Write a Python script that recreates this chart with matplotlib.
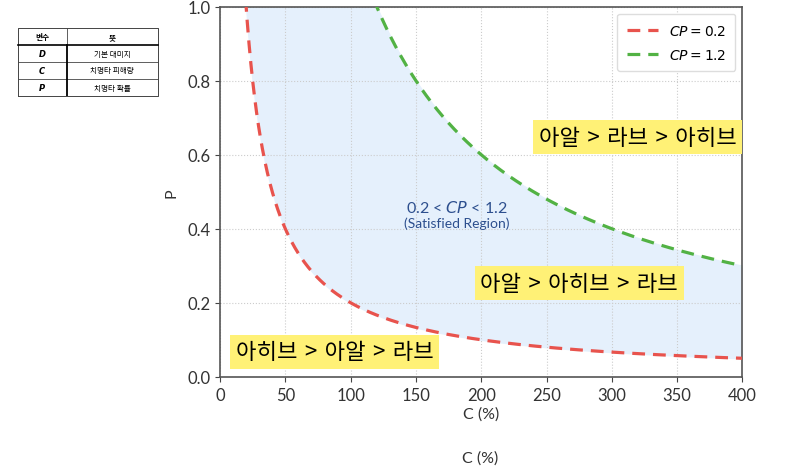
import matplotlib.pyplot as plt
import numpy as np

plt.rcParams["font.family"] = ["Lato", "Noto Sans CJK KR", "DejaVu Sans"]

# chart data (C in %, so P = CP / (C / 100))
cp_levels = [0.2, 1.2]
cp_labels = [r"$CP = 0.2$", r"$CP = 1.2$"]
cp_colors = ["#e8534d", "#52b244"]
c_grid = np.linspace(10, 400, 800)

x_ticks = [0, 50, 100, 150, 200, 250, 300, 350, 400]
y_ticks = [0.0, 0.2, 0.4, 0.6, 0.8, 1.0]

region_texts = ["아알 > 라브 > 아히브", "아알 > 아히브 > 라브", "아히브 > 아알 > 라브"]
region_x = [320, 275, 88]
region_y = [0.647, 0.253, 0.067]

table_header = ["변수", "뜻"]
table_symbols = ["D", "C", "P"]
table_meanings = ["기본 대미지", "치명타 피해량", "치명타 확률"]

fig = plt.figure(figsize=(8, 4.77), dpi=100)
ax = fig.add_axes((0.275, 0.208, 0.653, 0.776))

low = cp_levels[0] * 100 / c_grid
high = cp_levels[1] * 100 / c_grid
ax.fill_between(c_grid, np.minimum(low, 1.0), np.minimum(high, 1.0),
                color="#e5f0fc", zorder=1)
for lvl, lab, col in zip(cp_levels, cp_labels, cp_colors):
    ax.plot(c_grid, lvl * 100 / c_grid, "--", color=col, lw=2.3, label=lab,
            dashes=(4, 2.5), zorder=3)

ax.set_xlim(0, 400)
ax.set_ylim(0, 1.0)
ax.set_xticks(x_ticks)
ax.set_yticks(y_ticks)
ax.set_yticklabels([f"{v:.1f}" for v in y_ticks])
ax.grid(True, ls=":", color="#cccccc", lw=0.8, zorder=0)
ax.tick_params(labelsize=12, colors="#444444", labelcolor="#333333")
for s in ax.spines.values():
    s.set_color("#555555")
    s.set_linewidth(1.2)
ax.set_xlabel("C (%)", fontsize=11.5, color="#333333", labelpad=3)
ax.set_ylabel("P", fontsize=11.5, color="#333333", labelpad=6)

ax.legend(loc="upper right", fontsize=10, handlelength=2.2,
          borderpad=0.7, labelspacing=0.7, framealpha=1, edgecolor="#dddddd")

ax.text(181, 0.46, r"0.2 < $CP$ < 1.2", ha="center", va="center",
        fontsize=11.5, color="#2d4f8e", zorder=4)
ax.text(181, 0.415, "(Satisfied Region)", ha="center", va="center",
        fontsize=10, color="#2d4f8e", zorder=4)

for txt, x, y in zip(region_texts, region_x, region_y):
    ax.text(x, y, txt.replace(" ", "\u2004"), ha="center", va="center",
            fontsize=16, family=["Noto Sans CJK KR", "DejaVu Sans"],
            color="black",
            bbox=dict(boxstyle="square,pad=0.25", fc="#fff176", ec="none"),
            zorder=5, clip_on=False)

fig.text(0.6, 0.038, "C (%)", ha="center", va="center", fontsize=11.5,
         color="#333333")

# small table at top left
tab = fig.add_axes((17.5 / 800, 1 - 97 / 477, 140 / 800, 68 / 477))
tab.set_xlim(0, 1)
tab.set_ylim(0, 4)
tab.axis("off")
split = 0.353
tab.plot([0, 1, 1, 0, 0], [0, 0, 4, 4, 0], color="#444444", lw=0.7,
         clip_on=False)
tab.plot([0, 1], [3, 3], color="black", lw=1.2, clip_on=False)
for r in [1, 2]:
    tab.plot([0, 1], [r, r], color="#444444", lw=0.6, clip_on=False)
tab.plot([split, split], [3, 4], color="#444444", lw=0.6)
tab.plot([split, split], [0, 3], color="black", lw=1.3)
kr = ["Noto Sans CJK KR", "DejaVu Sans"]
tab.text(split / 2, 3.5, table_header[0], ha="center", va="center",
         fontsize=5.5, weight="bold", family=kr)
tab.text((split + 1) / 2, 3.5, table_header[1], ha="center", va="center",
         fontsize=5.5, weight="bold", family=kr)
for i, (sym, mean) in enumerate(zip(table_symbols, table_meanings)):
    yy = 2.5 - i
    tab.text(split / 2, yy, sym, ha="center", va="center", fontsize=6,
             weight="bold", style="italic", family="DejaVu Sans")
    tab.text((split + 1) / 2, yy, mean, ha="center", va="center",
             fontsize=5.5, family=kr)

fig.savefig("out.png", dpi=100)
